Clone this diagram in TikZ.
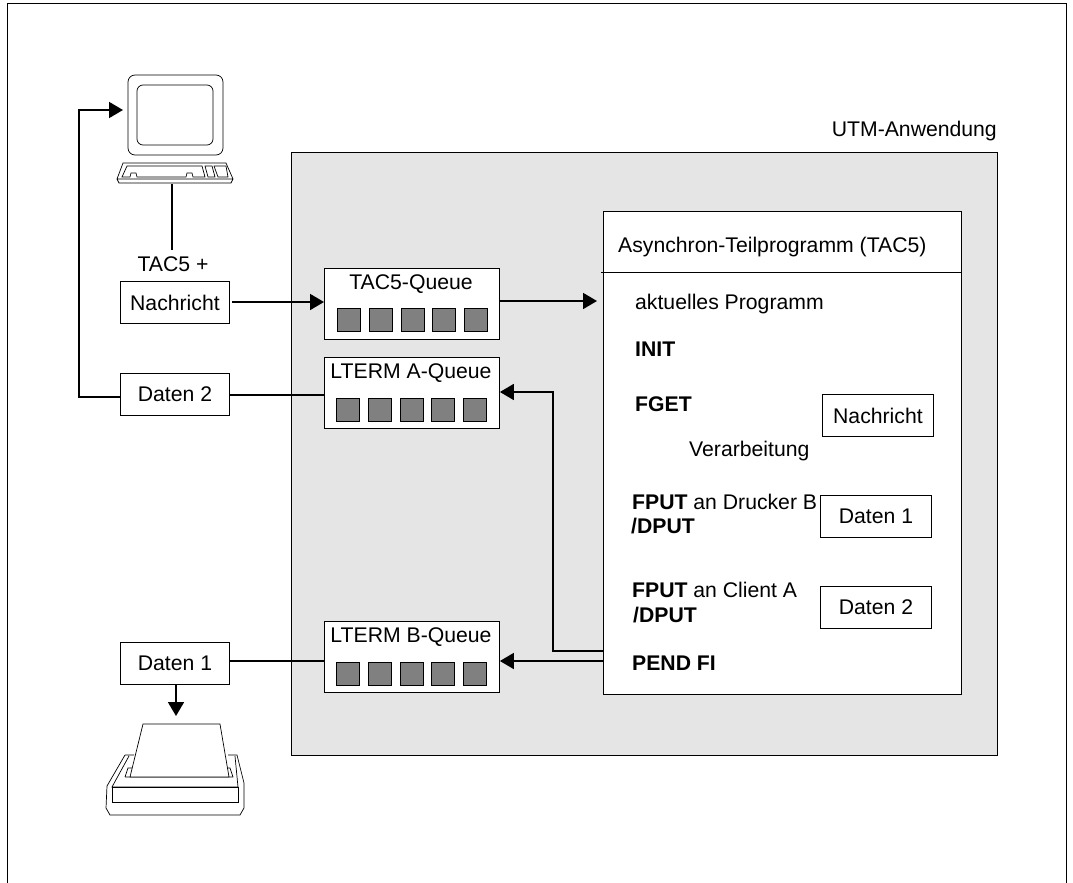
\documentclass[tikz,border=0pt]{standalone}
\usepackage{fontspec}
\setmainfont{Liberation Sans}
\usetikzlibrary{arrows.meta}

\begin{document}
\begin{tikzpicture}[x=1pt,y=-1pt,font=\fontsize{21.2}{24}\selectfont,
   box/.style={draw,fill=white,line width=0.9pt,inner sep=0pt,anchor=north west},
   queue/.style={box,minimum width=175pt,minimum height=71pt},
   slot/.style={draw,fill=black!50,line width=0.6pt,minimum size=23pt,inner sep=0pt,anchor=north west},
   msg/.style={box,minimum width=109pt,minimum height=42pt},
   data/.style={box,minimum width=111pt,minimum height=42pt},
   txt/.style={anchor=west,inner sep=0pt},
   link/.style={line width=1.8pt},
   arrow/.style={link,-{Triangle[length=14pt,width=16pt]}},
   icon/.style={line width=0.7pt}]
\useasboundingbox (0,0) rectangle (1073,883);
\draw[line width=1pt] (7,883) -- (7,4) -- (1066,4) -- (1066,883);
\node[anchor=east,inner sep=0pt] (app) at (997,131) {UTM-Anwendung};
\draw[line width=0.9pt,fill=black!10] (291,152) rectangle (997,755);

% terminal
\draw[icon,rounded corners=7pt] (128,75) rectangle (223,155);
\draw[icon,rounded corners=6pt] (137,85) rectangle (213,145);
\draw[icon] (123,163) -- (226,163) -- (233,179) -- (231,183) -- (119,183) -- (117,179) -- cycle (117,179) -- (233,179);
\draw[icon] (127,166) -- (202,166) -- (205,177) -- (193,177) -- (192,173) -- (187,173) -- (186,177) -- (137,177) -- (136,173) -- (131,173) -- (130,177) -- (122,177) -- cycle;
\draw[icon] (205,166) -- (212,166) -- (215,177) -- (208,177) -- cycle (214,166) -- (226,166) -- (228,177) -- (218,177) -- cycle;
\coordinate (termin) at (123,110);
\coordinate (termout) at (172,184);

% printer
\draw[icon] (125,755) -- (107,786) -- (106,808) -- (110,815) -- (240,815) -- (244,808) -- (244,783) -- (237,755) -- (228,755);
\draw[icon] (134,755) -- (125,755) (129,756) -- (112,787) -- (238,787) -- (235,756);
\draw[icon] (112,787) rectangle (238,802);
\draw[icon] (125,777) -- (233,777) -- (230,768) -- (227,768) (125,777) -- (128,768) -- (132,768);
\draw[icon,fill=white] (130,777) -- (143,724) -- (220,724) -- (229,777) -- cycle;
\coordinate (printin) at (176,716);

% queues
\node[msg] (nachricht) at (120,281) {Nachricht};
\node[msg] (daten2) at (120,373) {Daten 2};
\node[msg] (daten1) at (120,642) {Daten 1};
\node[queue] (tacq) at (324,268) {};
\node[queue] (ltermA) at (324,357) {};
\node[queue] (ltermB) at (324,621) {};
\node[inner sep=0pt] (tacqname) at (411,284) {TAC5-Queue};
\node[inner sep=0pt] (ltermAname) at (411,373) {LTERM A-Queue};
\node[inner sep=0pt] (ltermBname) at (411,637) {LTERM B-Queue};
\foreach \x in {337,369,401,432,464} {
  \node[slot] at (\x,308) {};
  \node[slot] at (\x-1,398) {};
  \node[slot] at (\x-1,662) {};
}
\node[inner sep=0pt] (tactitle) at (173,264) {TAC5 +};

% program
\node[box,minimum width=358pt,minimum height=483pt] (prog) at (603,211) {};
\draw[line width=0.9pt] (601,272) -- (961,272);
\node[txt] (progtitle) at (618,247) {Asynchron-Teilprogramm (TAC5)};
\node[txt] (aktuell) at (635,304) {aktuelles Programm};
\node[txt] (init) at (635,349) {\textbf{INIT}};
\node[txt] (fget) at (635,404) {\textbf{FGET}};
\node[txt] (verarb) at (689,451) {Verarbeitung};
\node[txt] (fput1) at (632,502) {\textbf{FPUT} an Drucker B};
\node[txt] (dput1) at (631,526) {\textbf{/DPUT}};
\node[txt] (fput2) at (632,590) {\textbf{FPUT} an Client A};
\node[txt] (dput2) at (633,615) {\textbf{/DPUT}};
\node[txt] (pend) at (632,663) {\textbf{PEND FI}};
\node[msg,minimum width=111pt] (innachricht) at (822,394) {Nachricht};
\node[data] (indaten1) at (820,495) {Daten 1};
\node[data] (indaten2) at (820,586) {Daten 2};

% connectors
\draw[arrow] (nachricht.east |- 0,302) ++(2,0) -- (tacq.west |- 0,302);
\draw[arrow] (tacq.east |- 0,301) -- (597,301);
\draw[link] (daten2.east |- 0,395) -- (ltermA.west |- 0,395);
\draw[arrow] (daten2.west |- 0,397) -- (79,397) -- (79,110) -- (termin);
\draw[link] (termout) -- (172,250);
\draw[link] (daten1.east |- 0,661) -- (ltermB.west |- 0,661);
\draw[arrow] (daten1.south -| 176,0) -- (printin);
\draw[arrow] (prog.west |- 0,651) -- (553,651) -- (553,392) -- (ltermA.east |- 0,392);
\draw[arrow] (prog.west |- 0,661) -- (ltermB.east |- 0,661);
\end{tikzpicture}
\end{document}
